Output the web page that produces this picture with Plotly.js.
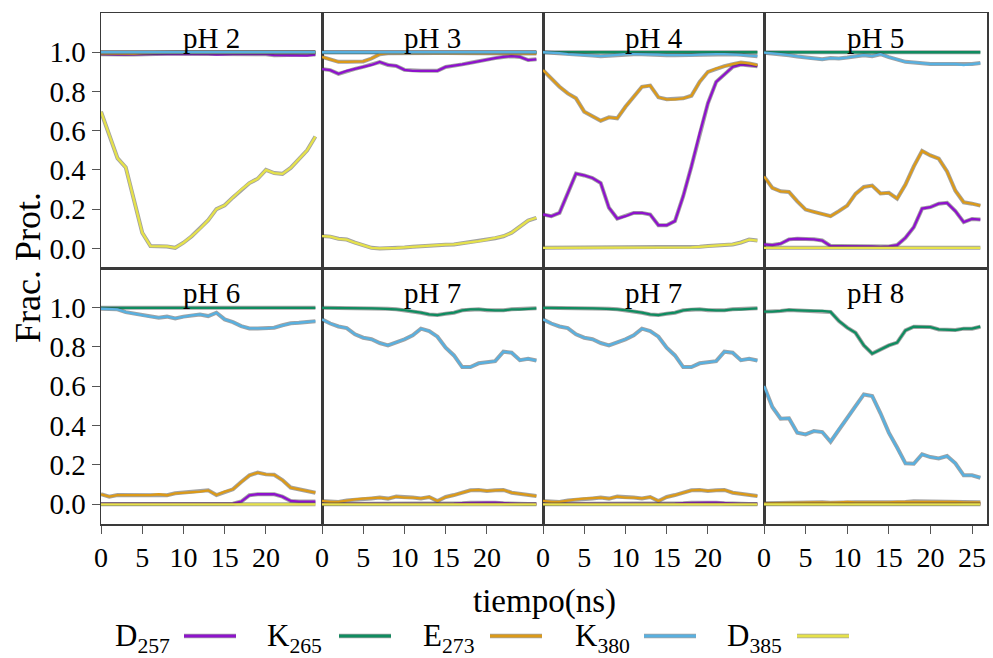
<!DOCTYPE html>
<html>
<head>
<meta charset="utf-8">
<script src="https://cdn.plot.ly/plotly-3.0.1.min.js"></script>
<style>html,body{margin:0;padding:0;background:#fff;}#chart{width:993px;height:658px;}</style>
</head>
<body>
<div id="chart"></div>
<script>
// ---------- DATA ----------
const time = [0,1,2,3,4,5,6,7,8,9,10,11,12,13,14,15,16,17,18,19,20,21,22,23,24,25,26];
const seriesNames = ['D<sub>257</sub>','K<sub>265</sub>','E<sub>273</sub>','K<sub>380</sub>','D<sub>385</sub>'];
const seriesColors = ['#8e12cc','#0f8c60','#dc9a18','#58b0e0','#e6e24a'];
const panelTitles = ['pH 2','pH 3','pH 4','pH 5','pH 6','pH 7','pH 7','pH 8'];
const yTickVals = [0.0,0.2,0.4,0.6,0.8,1.0];
const xTickVals = [0,5,10,15,20];
const xTickValsLast = [0,5,10,15,20,25];

// pH 2
const pH2_D257 = [0.99,0.988,0.988,0.988,0.988,0.99,0.99,0.992,0.992,0.992,0.992,0.99,0.99,0.99,0.988,0.99,0.99,0.99,0.99,0.99,0.99,0.985,0.985,0.985,0.983,0.983,0.988];
const pH2_K265 = [1.0,1.0,1.0,1.0,1.0,1.0,1.0,1.0,1.0,1.0,1.0,1.0,1.0,1.0,1.0,1.0,1.0,1.0,1.0,1.0,1.0,1.0,1.0,1.0,1.0,1.0,1.0];
const pH2_E273 = [0.994,0.993,0.993,0.993,0.993,0.995,0.997,0.998,0.998,0.998,0.998,0.998,0.998,0.998,0.998,0.998,0.998,0.998,0.998,0.998,0.998,0.998,0.998,0.998,0.998,0.998,0.998];
const pH2_K380 = [1.0,1.0,1.0,1.0,1.0,1.0,1.0,1.0,1.0,1.0,1.0,1.0,1.0,1.0,1.0,1.0,1.0,1.0,1.0,1.0,1.0,1.0,1.0,1.0,1.0,1.0,1.0];
const pH2_D385 = [0.697,0.579,0.46,0.413,0.249,0.08,0.012,0.012,0.01,0.003,0.029,0.062,0.1,0.144,0.2,0.22,0.26,0.3,0.333,0.355,0.4,0.384,0.38,0.41,0.455,0.5,0.57];

// pH 3
const pH3_D257 = [0.914,0.909,0.89,0.905,0.915,0.925,0.935,0.95,0.935,0.93,0.91,0.905,0.905,0.905,0.905,0.925,0.93,0.938,0.946,0.955,0.964,0.97,0.976,0.98,0.976,0.96,0.964];
const pH3_K265 = [1.0,1.0,1.0,1.0,1.0,1.0,1.0,1.0,1.0,1.0,1.0,1.0,1.0,1.0,1.0,1.0,1.0,1.0,1.0,1.0,1.0,1.0,1.0,1.0,1.0,1.0,1.0];
const pH3_E273 = [0.976,0.965,0.951,0.951,0.951,0.953,0.968,0.99,0.995,0.996,0.996,0.996,0.996,0.996,0.996,0.996,0.996,0.996,0.995,0.995,0.994,0.994,0.993,0.993,0.993,0.993,0.993];
const pH3_K380 = [1.0,1.0,1.0,1.0,1.0,1.0,1.0,1.0,1.0,1.0,1.0,1.0,1.0,1.0,1.0,1.0,1.0,1.0,1.0,1.0,1.0,1.0,1.0,1.0,1.0,1.0,1.0];
const pH3_D385 = [0.063,0.06,0.049,0.045,0.029,0.015,0.003,0.0,0.0,0.002,0.005,0.008,0.012,0.015,0.017,0.019,0.02,0.025,0.03,0.037,0.045,0.052,0.062,0.08,0.113,0.142,0.156];

// pH 4
const pH4_D257 = [0.173,0.164,0.181,0.283,0.381,0.372,0.359,0.333,0.207,0.152,0.164,0.181,0.181,0.173,0.118,0.118,0.139,0.266,0.418,0.587,0.74,0.849,0.888,0.925,0.937,0.934,0.929];
const pH4_K265 = [1.0,1.0,1.0,1.0,1.0,1.0,1.0,1.0,1.0,1.0,1.0,1.0,1.0,1.0,1.0,1.0,1.0,1.0,1.0,1.0,1.0,1.0,1.0,1.0,1.0,1.0,1.0];
const pH4_E273 = [0.909,0.866,0.824,0.79,0.765,0.697,0.672,0.651,0.668,0.663,0.722,0.773,0.824,0.83,0.77,0.76,0.76,0.765,0.778,0.849,0.9,0.917,0.929,0.939,0.948,0.943,0.934];
const pH4_K380 = [1.0,0.998,0.995,0.99,0.988,0.985,0.983,0.98,0.983,0.987,0.99,0.99,0.99,0.99,0.988,0.985,0.984,0.985,0.985,0.988,0.99,0.99,0.99,0.99,0.987,0.983,0.98];
const pH4_D385 = [0.003,0.003,0.003,0.003,0.003,0.003,0.003,0.003,0.003,0.003,0.003,0.003,0.003,0.003,0.003,0.003,0.003,0.003,0.005,0.008,0.012,0.015,0.018,0.02,0.03,0.045,0.04];

// pH 5
const pH5_D257 = [0.02,0.017,0.024,0.046,0.049,0.049,0.046,0.04,0.012,0.012,0.012,0.013,0.012,0.01,0.008,0.01,0.017,0.054,0.108,0.203,0.21,0.228,0.232,0.19,0.134,0.15,0.147];
const pH5_K265 = [1.0,1.0,1.0,1.0,1.0,1.0,1.0,1.0,1.0,1.0,1.0,1.0,1.0,1.0,1.0,1.0,1.0,1.0,1.0,1.0,1.0,1.0,1.0,1.0,1.0,1.0,1.0];
const pH5_E273 = [0.367,0.308,0.291,0.288,0.24,0.198,0.186,0.173,0.164,0.19,0.218,0.278,0.313,0.32,0.28,0.283,0.254,0.325,0.418,0.497,0.474,0.457,0.392,0.294,0.235,0.228,0.218];
const pH5_K380 = [0.998,0.995,0.99,0.985,0.978,0.973,0.968,0.964,0.97,0.968,0.973,0.98,0.985,0.98,0.99,0.975,0.963,0.951,0.948,0.943,0.94,0.94,0.94,0.94,0.935,0.94,0.945];
const pH5_D385 = [0.003,0.003,0.003,0.003,0.003,0.003,0.003,0.003,0.003,0.003,0.003,0.003,0.003,0.003,0.003,0.003,0.003,0.003,0.003,0.003,0.003,0.003,0.003,0.003,0.003,0.003,0.003];

// pH 6
const pH6_D257 = [0.002,0.002,0.002,0.002,0.002,0.002,0.002,0.002,0.002,0.002,0.002,0.002,0.002,0.002,0.002,0.002,0.003,0.014,0.046,0.051,0.051,0.051,0.039,0.017,0.014,0.014,0.014];
const pH6_K265 = [0.998,0.998,0.998,0.998,0.998,0.998,0.998,0.998,0.998,0.998,0.998,0.998,0.998,0.998,0.998,0.998,0.998,0.998,0.998,0.998,0.998,0.998,0.998,0.998,0.998,0.998,0.998];
const pH6_E273 = [0.051,0.039,0.047,0.047,0.046,0.046,0.047,0.051,0.046,0.056,0.059,0.063,0.064,0.071,0.047,0.064,0.076,0.113,0.147,0.161,0.152,0.15,0.123,0.085,0.076,0.068,0.059];
const pH6_K380 = [0.993,0.99,0.99,0.976,0.968,0.959,0.953,0.948,0.953,0.944,0.953,0.959,0.964,0.956,0.973,0.939,0.925,0.905,0.893,0.893,0.893,0.897,0.909,0.919,0.922,0.925,0.93];
const pH6_D385 = [0.0,0.0,0.0,0.0,0.0,0.0,0.0,0.0,0.0,0.0,0.0,0.0,0.0,0.0,0.0,0.0,0.0,0.0,0.0,0.0,0.0,0.0,0.0,0.0,0.0,0.0,0.0];

// pH 7
const pH7_D257 = [0.002,0.002,0.002,0.002,0.002,0.002,0.002,0.002,0.002,0.002,0.002,0.002,0.002,0.002,0.002,0.002,0.003,0.006,0.008,0.009,0.009,0.008,0.005,0.003,0.002,0.002,0.002];
const pH7_K265 = [0.998,0.998,0.998,0.997,0.997,0.996,0.995,0.994,0.993,0.99,0.986,0.981,0.973,0.964,0.961,0.968,0.973,0.985,0.99,0.99,0.986,0.985,0.985,0.99,0.99,0.993,0.995];
const pH7_E273 = [0.017,0.012,0.012,0.02,0.025,0.029,0.03,0.034,0.029,0.039,0.034,0.034,0.03,0.037,0.017,0.037,0.047,0.059,0.071,0.073,0.068,0.071,0.073,0.059,0.054,0.047,0.042];
const pH7_K380 = [0.939,0.918,0.903,0.895,0.863,0.846,0.838,0.819,0.807,0.821,0.838,0.858,0.892,0.88,0.851,0.795,0.756,0.697,0.697,0.716,0.72,0.727,0.775,0.77,0.732,0.739,0.73];
const pH7_D385 = [0.0,0.0,0.0,0.0,0.0,0.0,0.0,0.0,0.0,0.0,0.0,0.0,0.0,0.0,0.0,0.0,0.0,0.0,0.0,0.0,0.0,0.0,0.0,0.0,0.0,0.0,0.0];

// pH 8
const pH8_D257 = [0.002,0.002,0.002,0.002,0.002,0.002,0.002,0.002,0.002,0.002,0.002,0.002,0.002,0.002,0.002,0.002,0.002,0.002,0.003,0.003,0.003,0.003,0.003,0.002,0.002,0.002,0.002];
const pH8_K265 = [0.978,0.978,0.982,0.987,0.985,0.982,0.982,0.982,0.977,0.931,0.897,0.871,0.807,0.765,0.787,0.807,0.821,0.883,0.902,0.902,0.9,0.888,0.888,0.885,0.892,0.892,0.902];
const pH8_E273 = [0.005,0.006,0.008,0.01,0.01,0.01,0.01,0.01,0.008,0.01,0.012,0.01,0.01,0.01,0.008,0.01,0.012,0.012,0.015,0.015,0.012,0.012,0.015,0.012,0.01,0.01,0.01];
const pH8_K380 = [0.601,0.494,0.435,0.437,0.364,0.355,0.372,0.367,0.318,0.381,0.437,0.499,0.558,0.55,0.462,0.364,0.288,0.208,0.206,0.254,0.24,0.233,0.245,0.208,0.147,0.147,0.135];
const pH8_D385 = [0.0,0.0,0.0,0.0,0.0,0.0,0.0,0.0,0.0,0.0,0.0,0.0,0.0,0.0,0.0,0.0,0.0,0.0,0.0,0.0,0.0,0.0,0.0,0.0,0.0,0.0,0.0];

const panels = [
  [pH2_D257,pH2_K265,pH2_E273,pH2_K380,pH2_D385],
  [pH3_D257,pH3_K265,pH3_E273,pH3_K380,pH3_D385],
  [pH4_D257,pH4_K265,pH4_E273,pH4_K380,pH4_D385],
  [pH5_D257,pH5_K265,pH5_E273,pH5_K380,pH5_D385],
  [pH6_D257,pH6_K265,pH6_E273,pH6_K380,pH6_D385],
  [pH7_D257,pH7_K265,pH7_E273,pH7_K380,pH7_D385],
  [pH7_D257,pH7_K265,pH7_E273,pH7_K380,pH7_D385],
  [pH8_D257,pH8_K265,pH8_E273,pH8_K380,pH8_D385]
];

// ---------- LAYOUT ----------
const W = 993, H = 658;
const FONT = 'Liberation Serif';
const colEdges = [101, 322, 543, 764, 987];
const rowEdges = [[13, 268], [268, 524]];
const px = v => v / W;
const py = v => 1 - v / H;

const traces = [];
const layout = {
  width: W, height: H,
  margin: {l: 0, r: 0, t: 0, b: 0},
  paper_bgcolor: '#ffffff',
  plot_bgcolor: '#ffffff',
  showlegend: false,
  font: {family: FONT, color: '#000', size: 28},
  annotations: [],
  shapes: []
};

panels.forEach((ser, p) => {
  const row = Math.floor(p / 4), col = p % 4;
  const k = p === 0 ? '' : String(p + 1);
  const xa = 'x' + k, ya = 'y' + k;
  ser.forEach((vals, s) => {
    traces.push({x: time, y: vals, xaxis: xa, yaxis: ya, type: 'scatter', mode: 'lines',
      line: {color: 'rgba(70,70,70,0.5)', width: 4}, hoverinfo: 'skip'});
    traces.push({x: time, y: vals, xaxis: xa, yaxis: ya, type: 'scatter', mode: 'lines',
      name: seriesNames[s], line: {color: seriesColors[s], width: 2.3}});
  });
  const bottom = row === 1, left = col === 0;
  layout['xaxis' + k] = {
    domain: [px(colEdges[col]), px(colEdges[col + 1])],
    anchor: ya, range: [0, 26.8],
    showline: true, mirror: true, linecolor: '#3a3a3a', linewidth: 1.5,
    showgrid: false, zeroline: false,
    ticks: bottom ? 'outside' : '', ticklen: 8, tickwidth: 1, tickcolor: '#555',
    tickvals: p === 7 ? xTickValsLast : xTickVals,
    showticklabels: bottom, automargin: false,
    tickfont: {family: FONT, size: 28, color: '#000'}
  };
  layout['yaxis' + k] = {
    domain: [py(rowEdges[row][1]), py(rowEdges[row][0])],
    anchor: xa, range: [-0.1, 1.2],
    showline: true, mirror: true, linecolor: '#3a3a3a', linewidth: 1.5,
    showgrid: false, zeroline: false,
    ticks: left ? 'outside' : '', ticklen: 8, tickwidth: 1, tickcolor: '#555',
    tickvals: yTickVals, tickformat: '.1f',
    showticklabels: left, automargin: false,
    tickfont: {family: FONT, size: 29, color: '#000'}
  };
  layout.annotations.push({
    text: panelTitles[p], xref: 'paper', yref: 'paper',
    x: px((colEdges[col] + colEdges[col + 1]) / 2), y: py(rowEdges[row][0] + 25),
    xanchor: 'center', yanchor: 'middle', showarrow: false,
    font: {family: FONT, size: 29, color: '#000'}
  });
});

// axis titles
layout.annotations.push({
  text: 'Frac. Prot.', xref: 'paper', yref: 'paper', x: px(28), y: py(268),
  xanchor: 'center', yanchor: 'middle', textangle: -90, showarrow: false,
  font: {family: FONT, size: 36, color: '#000'}
});
layout.annotations.push({
  text: 'tiempo(ns)', xref: 'paper', yref: 'paper', x: px(544), y: py(601),
  xanchor: 'center', yanchor: 'middle', showarrow: false,
  font: {family: FONT, size: 33, color: '#000'}
});

// legend (label followed by line sample)
const legendTextRight = [172, 324, 476, 632, 784];
const legendLineStart = [184, 339, 490, 644, 797];
const legendLineLen = 52;
const legendY = 636;
seriesNames.forEach((nm, i) => {
  layout.annotations.push({
    text: nm, xref: 'paper', yref: 'paper', x: px(legendTextRight[i]), y: py(legendY + 2),
    xanchor: 'right', yanchor: 'middle', showarrow: false,
    font: {family: FONT, size: 31, color: '#000'}
  });
  layout.shapes.push({type: 'line', xref: 'paper', yref: 'paper',
    x0: px(legendLineStart[i]), x1: px(legendLineStart[i] + legendLineLen), y0: py(legendY), y1: py(legendY),
    line: {color: 'rgba(70,70,70,0.5)', width: 4.5}});
  layout.shapes.push({type: 'line', xref: 'paper', yref: 'paper',
    x0: px(legendLineStart[i]), x1: px(legendLineStart[i] + legendLineLen), y0: py(legendY), y1: py(legendY),
    line: {color: seriesColors[i], width: 2.8}});
});

Plotly.newPlot('chart', traces, layout, {staticPlot: true, displayModeBar: false});
</script>
</body>
</html>
